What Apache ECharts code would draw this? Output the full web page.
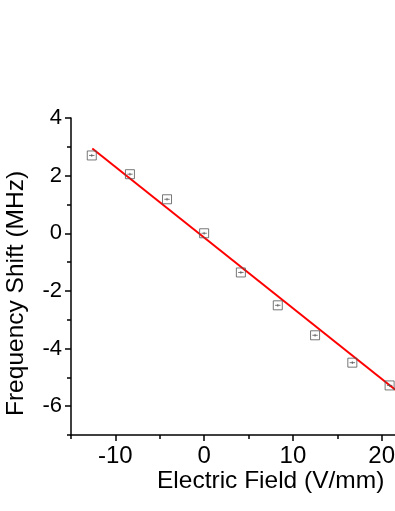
<!DOCTYPE html>
<html><head><meta charset="utf-8">
<script src="https://cdn.jsdelivr.net/npm/echarts@6/dist/echarts.min.js"></script>
<style>html,body{margin:0;padding:0;background:#fff}#c{width:395px;height:511px}</style>
</head><body><div id="c"></div>
<script>
var fieldX = [-12.66, -8.36, -4.18, 0.0, 4.14, 8.3, 12.5, 16.7, 20.9];
var shiftY = [2.7, 2.05, 1.18, 0.0, -1.36, -2.5, -3.54, -4.49, -5.28];
var fitX = [-12.6, 25];
var fitY = [2.94, -6.28];
var xMajor = [-10, 0, 10, 20];
var xMinor = [-15, -5, 5, 15];
var yMajor = [-6, -4, -2, 0, 2, 4];
var yMinor = [-7, -5, -3, -1, 1, 3];
var xTitle = 'Electric Field (V/mm)';
var yTitle = 'Frequency Shift (MHz)';
var font = '"Liberation Sans", Arial, sans-serif';

var chart = echarts.init(document.getElementById('c'), null, {renderer: 'canvas'});
function fmt(v) { return String(v); }
chart.setOption({
  animation: false,
  backgroundColor: '#fff',
  grid: {left: 71, top: 118, width: 355, height: 317, containLabel: false, outerBoundsMode: 'none'},
  xAxis: [{
    type: 'value', min: -15, max: 25, interval: 5,
    axisLine: {show: true, onZero: false, lineStyle: {color: '#000', width: 1.5}},
    axisTick: {show: true, inside: false, length: 6, customValues: xMajor, lineStyle: {color: '#000', width: 1.5}},
    axisLabel: {fontSize: 24, color: '#000', fontFamily: font, margin: 9, customValues: xMajor, formatter: fmt},
    splitLine: {show: false}
  }, {
    type: 'value', min: -15, max: 25, interval: 5, position: 'bottom',
    axisLine: {show: false, onZero: false},
    axisTick: {show: true, inside: false, length: 4, customValues: xMinor, lineStyle: {color: '#000', width: 1.5}},
    axisLabel: {show: false},
    splitLine: {show: false}
  }],
  yAxis: [{
    type: 'value', min: -7, max: 4, interval: 1,
    axisLine: {show: true, onZero: false, lineStyle: {color: '#000', width: 1.5}},
    axisTick: {show: true, inside: false, length: 6, customValues: yMajor, lineStyle: {color: '#000', width: 1.5}},
    axisLabel: {fontSize: 22, color: '#000', fontFamily: font, margin: 9, customValues: yMajor, formatter: fmt},
    splitLine: {show: false}
  }, {
    type: 'value', min: -7, max: 4, interval: 1, position: 'left',
    axisLine: {show: false, onZero: false},
    axisTick: {show: true, inside: false, length: 4, customValues: yMinor, lineStyle: {color: '#000', width: 1.5}},
    axisLabel: {show: false},
    splitLine: {show: false}
  }],
  graphic: [
    {type: 'text', x: 157, y: 469, style: {text: xTitle, fontSize: 24.5, fontFamily: font, fill: '#000', textBaseline: 'top'}},
    {type: 'text', x: 4, y: 416, rotation: Math.PI / 2, style: {text: yTitle, fontSize: 24.5, fontFamily: font, fill: '#000', textBaseline: 'top'}}
  ],
  series: [
    {
      type: 'line', data: fitX.map(function (x, i) { return [x, fitY[i]]; }),
      showSymbol: false, symbol: 'none', lineStyle: {color: '#ff0000', width: 2}, z: 2
    },
    {
      type: 'scatter', data: fieldX.map(function (x, i) { return [x, shiftY[i]]; }),
      symbol: 'path://M0,0L10,0L10,10L0,10Z M2,5L8,5 M5,3.5L5,6.5', symbolSize: 9,
      itemStyle: {color: 'rgba(0,0,0,0)', borderColor: '#555', borderWidth: 1}, z: 3
    }
  ]
});
</script></body></html>
